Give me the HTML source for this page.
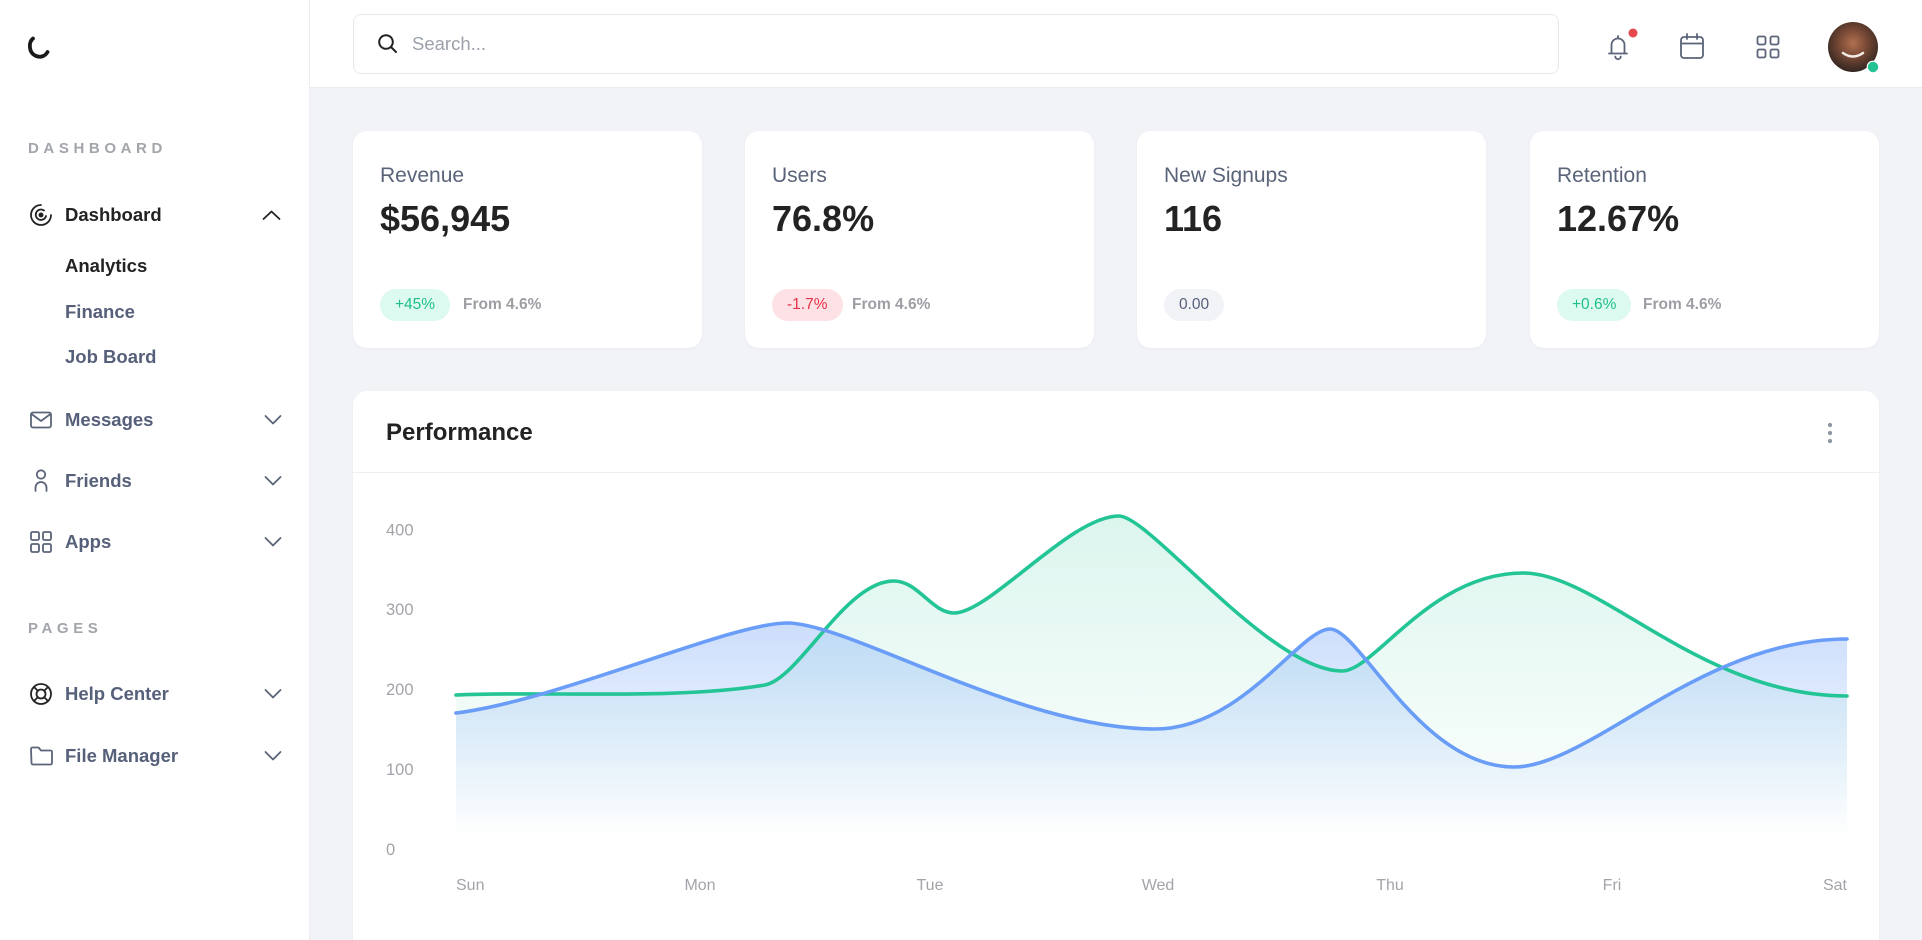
<!DOCTYPE html>
<html>
<head>
<meta charset="utf-8">
<style>
  html,body{margin:0;padding:0;width:1922px;height:940px;overflow:hidden;}
  body{background:#f1f3f7;font-family:"Liberation Sans",Arial,sans-serif;position:relative;}
  .abs{position:absolute;}
  .sidebar{left:0;top:0;width:309px;height:940px;background:#fff;border-right:1px solid #eceef2;}
  .header{left:310px;top:0;width:1612px;height:87px;background:#fff;border-bottom:1px solid #e8ebef;}
  .search{left:353px;top:14px;width:1204px;height:58px;border:1px solid #e5e8ed;border-radius:8px;background:#fff;}
  .t{position:absolute;white-space:nowrap;line-height:1;}
  .sec{font-size:15px;font-weight:700;letter-spacing:4.6px;color:#a2a5aa;left:28px;}
  .nav{font-size:18.5px;font-weight:700;color:#56607a;left:65px;}
  .dark{color:#232323;}
  .card{position:absolute;top:131px;width:349px;height:217px;background:#fff;border-radius:14px;box-shadow:0 1px 3px rgba(20,30,60,0.04);}
  .card .lbl{position:absolute;left:27px;top:34px;font-size:21px;color:#5a6479;line-height:1;white-space:nowrap;}
  .card .val{position:absolute;left:27px;top:70px;font-size:36px;font-weight:700;color:#232323;line-height:1;white-space:nowrap;}
  .badge{position:absolute;left:27px;top:158px;height:32px;line-height:32px;border-radius:16px;padding:0 15px;font-size:15.5px;white-space:nowrap;}
  .from{position:absolute;top:158px;height:32px;line-height:32px;font-size:15.5px;color:#9c9ea3;font-weight:700;white-space:nowrap;}
  .perf{left:353px;top:391px;width:1526px;height:549px;background:#fff;border-radius:14px 14px 0 0;box-shadow:0 1px 3px rgba(20,30,60,0.04);}
</style>
</head>
<body>
<div class="abs sidebar"></div>
<div class="abs header"></div>
<div class="abs search"></div>
<div class="t" style="left:412px;top:35px;font-size:18.5px;color:#9ba1ab;">Search...</div>

<!-- sidebar text -->
<div class="t sec" style="top:141px;">DASHBOARD</div>
<div class="t nav dark" style="top:206px;">Dashboard</div>
<div class="t nav dark" style="top:257px;">Analytics</div>
<div class="t nav" style="top:303px;">Finance</div>
<div class="t nav" style="top:348px;">Job Board</div>
<div class="t nav" style="top:411px;">Messages</div>
<div class="t nav" style="top:472px;">Friends</div>
<div class="t nav" style="top:533px;">Apps</div>
<div class="t sec" style="top:621px;">PAGES</div>
<div class="t nav" style="top:685px;">Help Center</div>
<div class="t nav" style="top:747px;">File Manager</div>

<!-- stat cards -->
<div class="card" style="left:353px;">
  <div class="lbl">Revenue</div>
  <div class="val">$56,945</div>
  <div class="badge" style="background:#dcfaef;color:#1fbf8e;">+45%</div>
  <div class="from" style="left:110px;">From 4.6%</div>
</div>
<div class="card" style="left:745px;">
  <div class="lbl">Users</div>
  <div class="val">76.8%</div>
  <div class="badge" style="background:#fde1e4;color:#e5334b;">-1.7%</div>
  <div class="from" style="left:107px;">From 4.6%</div>
</div>
<div class="card" style="left:1137px;">
  <div class="lbl">New Signups</div>
  <div class="val">116</div>
  <div class="badge" style="background:#f1f3f7;color:#56607a;">0.00</div>
</div>
<div class="card" style="left:1530px;">
  <div class="lbl">Retention</div>
  <div class="val">12.67%</div>
  <div class="badge" style="background:#dcfaef;color:#1fbf8e;">+0.6%</div>
  <div class="from" style="left:113px;">From 4.6%</div>
</div>

<!-- performance card -->
<div class="abs perf"></div>
<div class="abs" style="left:353px;top:472px;width:1526px;height:1px;background:#eceef2;"></div>
<div class="t" style="left:386px;top:421px;font-size:24px;font-weight:700;color:#232323;">Performance</div>

<svg class="abs" style="left:0;top:0;" width="1922" height="940" viewBox="0 0 1922 940" xmlns="http://www.w3.org/2000/svg">
  <defs>
    <linearGradient id="gb" x1="0" y1="0" x2="0" y2="1">
      <stop offset="0" stop-color="#699df7" stop-opacity="0.34"/>
      <stop offset="0.93" stop-color="#699df7" stop-opacity="0"/>
    </linearGradient>
    <linearGradient id="gg" x1="0" y1="0" x2="0" y2="1">
      <stop offset="0" stop-color="#23c495" stop-opacity="0.16"/>
      <stop offset="1" stop-color="#23c495" stop-opacity="0"/>
    </linearGradient>
    <radialGradient id="av" cx="0.5" cy="0.42" r="0.6">
      <stop offset="0" stop-color="#b07050"/>
      <stop offset="0.45" stop-color="#7a4a36"/>
      <stop offset="1" stop-color="#2e2420"/>
    </radialGradient>
  </defs>

  <!-- logo -->
  <path d="M33,38.5 C28.5,42 28.5,52 35,55.5 C40,58 45,56.5 47.5,52" fill="none" stroke="#1a1a1a" stroke-width="3.8" stroke-linecap="round"/>

  <!-- search icon -->
  <circle cx="386" cy="42" r="6.8" fill="none" stroke="#222" stroke-width="2"/>
  <line x1="391" y1="47" x2="396" y2="52" stroke="#222" stroke-width="2" stroke-linecap="round"/>

  <!-- header icons -->
  <g fill="none" stroke="#5b6479" stroke-width="1.8" stroke-linecap="round" stroke-linejoin="round">
    <path d="M1609,53.5 h18 M1611.5,53.5 V45 a6.5,6.5 0 0 1 13,0 V53.5"/>
    <path d="M1618,36 v2.5"/>
    <path d="M1615.3,56.5 a2.7,2.7 0 0 0 5.4,0"/>
    <rect x="1681" y="37" width="22" height="21" rx="3"/>
    <path d="M1681,43.5 h22 M1687,34 v5 M1697,34 v5"/>
    <rect x="1757.5" y="36.5" width="8" height="8" rx="1.6"/>
    <rect x="1770.5" y="36.5" width="8" height="8" rx="1.6"/>
    <rect x="1757.5" y="49.5" width="8" height="8" rx="1.6"/>
    <rect x="1770.5" y="49.5" width="8" height="8" rx="1.6"/>
  </g>
  <circle cx="1633" cy="33" r="4.5" fill="#e5484d"/>
  <circle cx="1853" cy="47" r="25" fill="url(#av)"/>
  <path d="M1843,53 q10,7 20,0" fill="none" stroke="#f3ece6" stroke-width="2.5" stroke-linecap="round"/>
  <circle cx="1873" cy="67" r="5.8" fill="#22c493" stroke="#fff" stroke-width="1.2"/>

  <!-- sidebar icons -->
  <g fill="none" stroke="#232323" stroke-width="1.8" stroke-linecap="round" stroke-linejoin="round">
    <path d="M41,205 A10,10 0 1 0 51,215"/>
    <path d="M44,210.5 A5.2,5.2 0 1 0 46,216"/>
    <circle cx="41" cy="215" r="1.6" fill="#232323"/>
    <circle cx="41" cy="694" r="10"/>
    <circle cx="41" cy="694" r="4.5"/>
    <path d="M34,687 L37.8,690.8 M48,687 L44.2,690.8 M34,701 L37.8,697.2 M48,701 L44.2,697.2"/>
    <path d="M263.5,219 L271.5,211.5 L279.5,219"/>
  </g>
  <g fill="none" stroke="#5b6479" stroke-width="1.8" stroke-linecap="round" stroke-linejoin="round">
    <rect x="31" y="412.5" width="20" height="15" rx="2"/>
    <path d="M31.5,414 L41,421 L50.5,414"/>
    <circle cx="41" cy="474.5" r="4.2"/>
    <path d="M35.5,491 v-3.5 a5.5,5.5 0 0 1 11,0 v3.5"/>
    <rect x="31" y="532" width="8" height="8" rx="1.5"/>
    <rect x="43" y="532" width="8" height="8" rx="1.5"/>
    <rect x="31" y="544" width="8" height="8" rx="1.5"/>
    <rect x="43" y="544" width="8" height="8" rx="1.5"/>
    <path d="M31,749 a1.5,1.5 0 0 1 1.5,-1.5 h6 l2.5,3 h9.5 a1.5,1.5 0 0 1 1.5,1.5 v11 a1.5,1.5 0 0 1 -1.5,1.5 h-17.5 a1.5,1.5 0 0 1 -1.5,-1.5 z"/>
    <path d="M265.5,416 L273,423.5 L280.5,416"/>
    <path d="M265.5,477 L273,484.5 L280.5,477"/>
    <path d="M265.5,538 L273,545.5 L280.5,538"/>
    <path d="M265.5,690 L273,697.5 L280.5,690"/>
    <path d="M265.5,752 L273,759.5 L280.5,752"/>
  </g>

  <!-- kebab -->
  <circle cx="1830" cy="425" r="2.1" fill="#8d95a0"/>
  <circle cx="1830" cy="433" r="2.1" fill="#8d95a0"/>
  <circle cx="1830" cy="441" r="2.1" fill="#8d95a0"/>

  <!-- chart areas -->
  <path fill="url(#gg)" d="M456,695 C540,691 680,700 765,685 C800,678 845,581 894,581 C918,581 932,613 954,613 C990,613 1070,516 1119,516 C1150,516 1270,671 1342,671 C1375,671 1430,573 1523,573 C1600,573 1700,696 1847,696 L1847,848 L456,848 Z"/>
  <path fill="url(#gb)" d="M456,713 C560,700 730,623 787,623 C850,623 1020,729 1155,729 C1242,729 1300,629 1330,629 C1360,629 1420,767 1514,767 C1590,767 1700,639 1847,639 L1847,848 L456,848 Z"/>
  <!-- chart lines -->
  <path fill="none" stroke="#23c495" stroke-width="3.6" stroke-linecap="round" d="M456,695 C540,691 680,700 765,685 C800,678 845,581 894,581 C918,581 932,613 954,613 C990,613 1070,516 1119,516 C1150,516 1270,671 1342,671 C1375,671 1430,573 1523,573 C1600,573 1700,696 1847,696"/>
  <path fill="none" stroke="#699df7" stroke-width="3.6" stroke-linecap="round" d="M456,713 C560,700 730,623 787,623 C850,623 1020,729 1155,729 C1242,729 1300,629 1330,629 C1360,629 1420,767 1514,767 C1590,767 1700,639 1847,639"/>

  <!-- axis labels -->
  <g font-family="Liberation Sans, Arial, sans-serif" font-size="16.5" fill="#a2a4a9">
    <text x="386" y="535.5">400</text>
    <text x="386" y="615">300</text>
    <text x="386" y="695">200</text>
    <text x="386" y="775">100</text>
    <text x="386" y="855">0</text>
  </g>
  <g font-family="Liberation Sans, Arial, sans-serif" font-size="16" fill="#a2a4a9">
    <text x="456" y="890">Sun</text>
    <text x="700" y="890" text-anchor="middle">Mon</text>
    <text x="930" y="890" text-anchor="middle">Tue</text>
    <text x="1158" y="890" text-anchor="middle">Wed</text>
    <text x="1390" y="890" text-anchor="middle">Thu</text>
    <text x="1612" y="890" text-anchor="middle">Fri</text>
    <text x="1847" y="890" text-anchor="end">Sat</text>
  </g>
</svg>
</body>
</html>
